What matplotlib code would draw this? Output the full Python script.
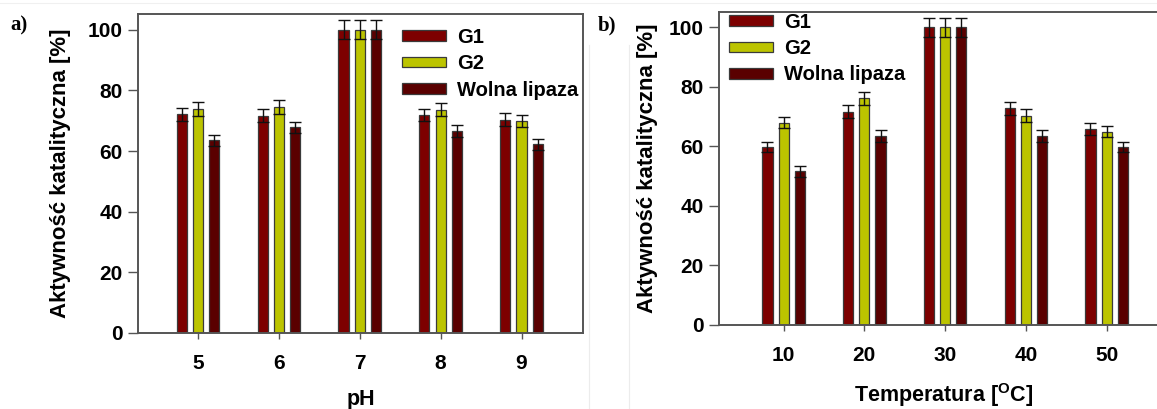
import matplotlib
matplotlib.use("Agg")
import matplotlib.pyplot as plt
import numpy as np
from matplotlib.lines import Line2D

plt.rcParams['font.family'] = ['Liberation Sans', 'DejaVu Sans']
plt.rcParams['font.weight'] = 'bold'
plt.rcParams['mathtext.fontset'] = 'custom'
plt.rcParams['mathtext.bf'] = 'Liberation Sans:bold'
plt.rcParams['mathtext.rm'] = 'Liberation Sans:bold'

# ---- data ----
series = ["G1", "G2", "Wolna lipaza"]
ph_labels = ["5", "6", "7", "8", "9"]
ph_g1 = [72.1, 71.7, 100, 71.9, 70.4]
ph_g2 = [73.9, 74.4, 100, 73.6, 69.8]
ph_wl = [63.5, 67.8, 100, 66.7, 62.3]
ph_g1_err = [2.2, 2.1, 3.1, 2.1, 2.0]
ph_g2_err = [2.2, 2.3, 3.1, 2.1, 2.0]
ph_wl_err = [1.9, 1.9, 3.1, 1.9, 1.8]

t_labels = ["10", "20", "30", "40", "50"]
t_g1 = [59.8, 71.7, 100, 72.8, 65.9]
t_g2 = [68.0, 76.2, 100, 70.4, 65.0]
t_wl = [51.6, 63.5, 100, 63.5, 59.8]
t_g1_err = [1.7, 2.1, 3.2, 2.3, 2.0]
t_g2_err = [1.8, 2.2, 3.2, 2.2, 1.9]
t_wl_err = [1.8, 1.9, 3.2, 2.0, 1.8]

colors = ["#7d0000", "#bcc400", "#5a0000"]
edge = "#3a3a3a"
spine_c = "#555555"

W, H = 1157, 409
fig = plt.figure(figsize=(W / 100, H / 100), dpi=100)

def px_axes(l, r, t, b):
    return fig.add_axes([l / W, 1 - b / H, (r - l) / W, (b - t) / H])

def draw(ax, labels, vals, errs, xlim, legend_anchor, xlabel, ylab_x):
    x = np.arange(len(labels))
    offs = [-0.2, 0.0, 0.2]
    handles = []
    for v, e, c, o, name in zip(vals, errs, colors, offs, series):
        b = ax.bar(x + o, v, width=0.125, color=c, edgecolor=edge, linewidth=0.9,
                   yerr=e, capsize=4,
                   error_kw=dict(ecolor="#111111", elinewidth=1.0, capthick=1.0),
                   label=name, zorder=2)
        handles.append(b)
    ax.set_xlim(*xlim)
    ax.set_ylim(0, 105.2)
    ax.set_xticks(x)
    ax.set_xticklabels(labels)
    ax.set_yticks([0, 20, 40, 60, 80, 100])
    ax.tick_params(axis='both', direction='out', colors=spine_c, labelcolor='black',
                   labelsize=15, width=1.0)
    ax.tick_params(axis='x', length=4, pad=11)
    ax.tick_params(axis='y', length=7, pad=4)
    for lab in ax.get_xticklabels() + ax.get_yticklabels():
        lab.set_fontweight('bold')
    for s in ax.spines.values():
        s.set_color(spine_c)
        s.set_linewidth(1.4)
    ax.set_ylabel("Aktywność katalityczna [%]", fontsize=16, fontweight='bold')
    ax.yaxis.set_label_coords(ylab_x, 0.5)
    ax.set_xlabel(xlabel, fontsize=15.5, fontweight='bold', labelpad=12)
    leg = ax.legend(handles=handles, loc='upper left',
                    bbox_to_anchor=(legend_anchor[0] / W, 1 - legend_anchor[1] / H),
                    bbox_transform=fig.transFigure, frameon=False, fontsize=14.5,
                    handlelength=2.2, handleheight=0.45, handletextpad=0.55,
                    labelspacing=0.36, borderpad=0, borderaxespad=0)
    for t in leg.get_texts():
        t.set_fontweight('bold')
    return ax

ax1 = px_axes(138, 583, 14, 333)
draw(ax1, ph_labels, [ph_g1, ph_g2, ph_wl], [ph_g1_err, ph_g2_err, ph_wl_err],
     (-0.74, 4.76), (402, 28), "pH", -0.150)

ax2 = px_axes(719, 1168, 12, 325)
draw(ax2, t_labels, [t_g1, t_g2, t_wl], [t_g1_err, t_g2_err, t_wl_err],
     (-0.8, 4.76), (729, 13), r"Temperatura [$^{\mathbf{O}}$C]", -0.136)

fig.text(19 / W, 1 - 25 / H, "a)", family='Liberation Serif', fontweight='bold',
         fontsize=15, ha='center', va='center')
fig.text(607 / W, 1 - 25 / H, "b)", family='Liberation Serif', fontweight='bold',
         fontsize=15, ha='center', va='center')

# faint page artifacts
for xp in (589, 629):
    fig.add_artist(Line2D([xp / W, xp / W], [0, 1 - 45 / H], color="#ececec", lw=0.8))
fig.add_artist(Line2D([0, 1], [1 - 3 / H, 1 - 3 / H], color="#f0f0f0", lw=0.8))

fig.savefig("out.png", dpi=100)
